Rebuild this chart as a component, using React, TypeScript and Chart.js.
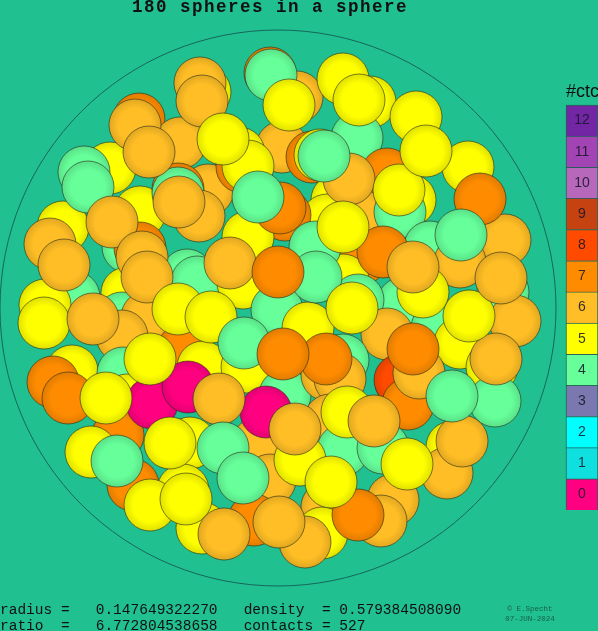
import React, { useEffect, useRef } from "react";
import { Chart, registerables } from "chart.js";

Chart.register(...registerables);

// Sphere centres (back to front) and their contact counts.
const sphereX = [
  270, 205, 200, 139, 297, 180, 110, 84, 140, 63, 282, 239, 208, 242, 248, 178, 178, 199, 128, 140,
  74, 187, 197, 243, 127, 45, 122, 147, 122, 183, 72, 123, 127, 203, 247, 277, 285, 118, 91, 190,
  258, 270, 183, 133, 202, 254, 370, 343, 357, 416, 468, 312, 320, 387, 337, 410, 360, 327, 400, 285,
  360, 430, 505, 460, 503, 515, 343, 403, 358, 387, 437, 460, 308, 492, 327, 343, 340, 401, 400, 408,
  419, 495, 452, 447, 330, 343, 383, 300, 393, 327, 381, 322, 152, 188, 266, 202, 135, 149, 223, 271,
  289, 88, 112, 179, 315, 316, 248, 280, 258, 230, 50, 64, 142, 147, 278, 178, 211, 44, 93, 244,
  150, 53, 68, 106, 219, 223, 170, 117, 243, 150, 186, 224, 305, 279, 358, 331, 295, 347, 374, 407,
  462, 452, 496, 469, 413, 326, 283, 352, 423, 383, 413, 501, 480, 461, 349, 324, 399, 359, 426, 343,
];
const sphereY = [
  73, 92, 83, 119, 97, 143, 168, 172, 212, 227, 147, 153, 190, 167, 166, 189, 193, 216, 247, 248,
  297, 275, 282, 283, 293, 305, 318, 317, 336, 350, 371, 373, 400, 367, 367, 310, 395, 435, 452, 443,
  443, 480, 490, 485, 528, 520, 102, 79, 138, 117, 167, 157, 155, 174, 200, 200, 215, 220, 212, 215,
  260, 247, 240, 262, 292, 321, 280, 303, 300, 334, 328, 343, 328, 367, 375, 360, 379, 382, 380, 404,
  373, 401, 447, 473, 420, 450, 448, 460, 500, 507, 521, 533, 403, 387, 412, 101, 125, 152, 139, 75,
  105, 187, 222, 202, 247, 277, 237, 208, 197, 263, 244, 265, 257, 277, 272, 309, 317, 323, 319, 343,
  359, 382, 398, 398, 399, 448, 443, 461, 478, 505, 499, 534, 542, 522, 515, 482, 429, 412, 421, 464,
  441, 396, 359, 316, 349, 359, 354, 308, 292, 252, 267, 278, 199, 235, 179, 156, 190, 100, 151, 227,
];
const sphereContacts = [
  7, 5, 6, 7, 6, 6, 5, 4, 5, 5, 6, 5, 6, 7, 5, 7, 4, 6, 4, 7,
  4, 4, 4, 5, 5, 5, 4, 6, 6, 7, 5, 4, 5, 5, 5, 4, 4, 7, 5, 5,
  6, 6, 5, 7, 5, 7, 5, 5, 4, 5, 5, 7, 5, 7, 5, 5, 6, 5, 4, 7,
  7, 4, 6, 6, 4, 6, 5, 4, 4, 6, 4, 5, 5, 5, 6, 4, 6, 5, 8, 7,
  6, 4, 5, 6, 6, 4, 4, 5, 6, 6, 6, 5, 0, 0, 0, 6, 6, 6, 5, 4,
  5, 4, 6, 6, 4, 4, 5, 7, 4, 6, 6, 6, 6, 6, 7, 5, 5, 5, 6, 4,
  5, 7, 7, 5, 6, 4, 5, 4, 4, 5, 5, 6, 6, 6, 7, 5, 6, 5, 6, 5,
  6, 4, 6, 5, 7, 7, 7, 5, 5, 7, 6, 6, 7, 4, 6, 4, 5, 5, 5, 5,
];

const sphereRadius = 26;
const containerX = 278;
const containerY = 308;
const containerRadius = 278;

const legendLevels = [12, 11, 10, 9, 8, 7, 6, 5, 4, 3, 2, 1, 0];
const legendColors = [
  "#7326a3", "#a244b4", "#b768bb", "#c64211", "#ff4a00", "#ff8c00", "#ffbe25",
  "#ffff00", "#66ff9a", "#7b78b0", "#00ffff", "#10dfe0", "#ff0080",
];
const legendColumn = 582;
const background = "#20c090";

const titleText = "180 spheres in a sphere";
const footerLines = [
  "radius =   0.147649322270   density  = 0.579384508090",
  "ratio  =   6.772804538658   contacts = 527",
];
const creditLines = ["\u00a9 E.Specht", "07-JUN-2024"];

const shade = (hex: string, k: number) => {
  const n = parseInt(hex.slice(1), 16);
  const c = [(n >> 16) & 255, (n >> 8) & 255, n & 255].map((v) => Math.round(v * k));
  return `rgb(${c[0]},${c[1]},${c[2]})`;
};
const colorOf = (level: number) => legendColors[legendLevels.indexOf(level)];

const textPlugin = {
  id: "texts",
  afterDatasetsDraw(chart: any) {
    const ctx = chart.ctx;
    ctx.save();
    ctx.textBaseline = "alphabetic";
    ctx.textAlign = "left";
    ctx.fillStyle = "#101010";
    ctx.font = 'bold 17.5px "Liberation Mono"';
    ctx.letterSpacing = "1.5px";
    ctx.fillText(titleText, 132, 12);
    ctx.letterSpacing = "0px";
    ctx.font = '14.5px "Liberation Mono"';
    ctx.fillText(footerLines[0], 0, 614);
    ctx.fillText(footerLines[1], 0, 630);
    ctx.font = '18px "Liberation Sans"';
    ctx.fillText("#ctc", 566, 97);
    ctx.textAlign = "center";
    ctx.font = '7.5px "Liberation Mono"';
    ctx.fillStyle = "rgba(20,70,50,0.8)";
    ctx.fillText(creditLines[0], 530, 611);
    ctx.fillText(creditLines[1], 530, 621);
    ctx.font = '14px "Liberation Sans"';
    ctx.fillStyle = "rgba(20,20,40,0.85)";
    ctx.textBaseline = "middle";
    const scale = chart.scales.yLegend;
    legendLevels.forEach((level) => {
      ctx.fillText(String(level), legendColumn, scale.getPixelForValue(level + 0.5));
    });
    ctx.restore();
  },
};

export default function App() {
  const ref = useRef<HTMLCanvasElement | null>(null);
  useEffect(() => {
    document.body.style.margin = "0";
    document.body.style.background = background;
    const canvas = ref.current!;
    const chart = new Chart(canvas, {
      type: "bubble",
      plugins: [textPlugin],
      data: {
        datasets: [
          {
            type: "bubble",
            order: 3,
            clip: false,
            data: [{ x: containerX, y: containerY, r: containerRadius }],
            backgroundColor: "rgba(0,0,0,0)",
            borderColor: "#17665a",
            borderWidth: 1,
          },
          {
            type: "bubble",
            order: 2,
            clip: false,
            data: sphereX.map((x, i) => ({ x, y: sphereY[i], r: sphereRadius })),
            borderColor: "rgba(40,45,25,0.6)",
            borderWidth: 1,
            backgroundColor: (c: any) => {
              const i = c.dataIndex;
              if (i === undefined || sphereX[i] === undefined) return "#000";
              const base = colorOf(sphereContacts[i]);
              const px = c.chart.scales.x.getPixelForValue(sphereX[i]);
              const py = c.chart.scales.y.getPixelForValue(sphereY[i]);
              if (!Number.isFinite(px) || !Number.isFinite(py)) return base;
              const g = c.chart.ctx.createRadialGradient(px, py, 0, px, py, sphereRadius);
              g.addColorStop(0, base);
              g.addColorStop(0.65, base);
              g.addColorStop(1, shade(base, 0.88));
              return g;
            },
          },
          {
            type: "bar",
            order: 1,
            yAxisID: "yLegend",
            data: legendLevels.map((level) => ({ x: legendColumn, y: [level, level + 1] })),
            backgroundColor: legendColors,
            borderColor: "rgba(30,40,50,0.6)",
            borderWidth: 1,
            barThickness: 32,
          },
        ],
      } as any,
      options: {
        responsive: false,
        animation: false,
        layout: { padding: 0, autoPadding: false },
        plugins: { legend: { display: false }, tooltip: { enabled: false }, title: { display: false } },
        events: [],
        scales: {
          x: { type: "linear", display: false, min: 0, max: 598, offset: false },
          y: { type: "linear", display: false, min: 0, max: 631, reverse: true },
          yLegend: { type: "linear", display: false, min: -3.884, max: 16.37 },
        },
      } as any,
    });
    return () => chart.destroy();
  }, []);
  return (
    <canvas
      ref={ref}
      width={598}
      height={631}
      style={{ position: "absolute", left: 0, top: 0, width: 598, height: 631, display: "block", background }}
    />
  );
}
